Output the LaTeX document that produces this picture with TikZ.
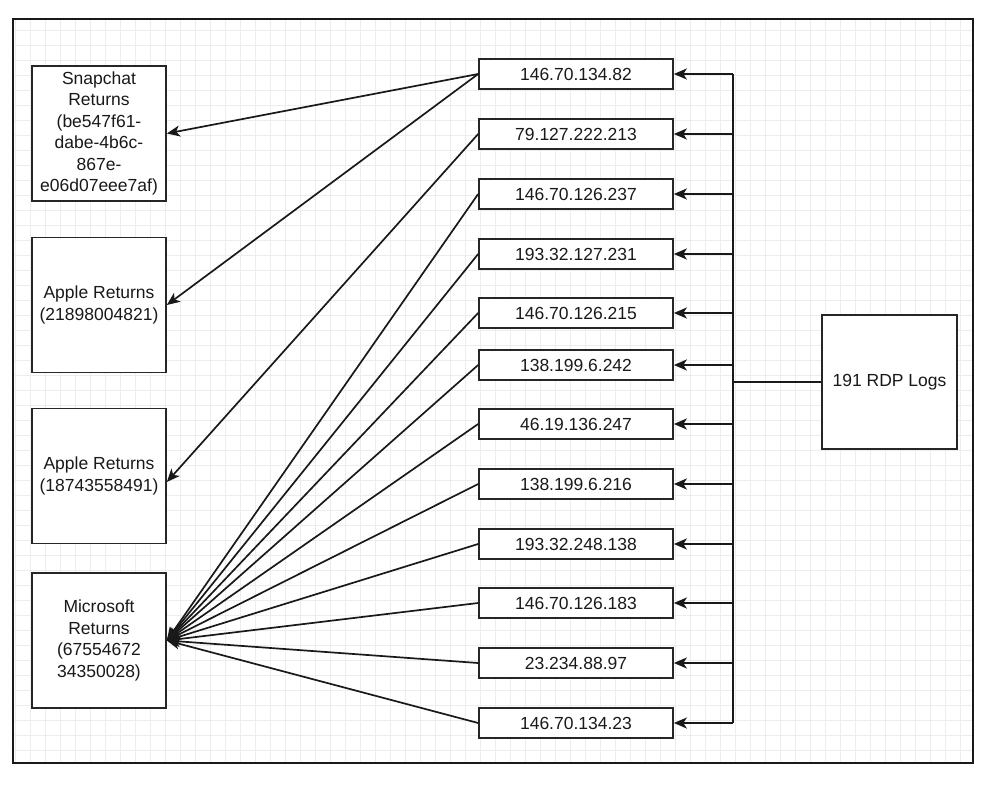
\documentclass[tikz,border=0pt]{standalone}
\usepackage{fontspec}
\setmainfont{Liberation Sans}
\usetikzlibrary{arrows.meta}
\begin{document}
\begin{tikzpicture}[x=1pt,y=-1pt,
  box/.style={draw=black!85, line width=1.7pt, fill=white, inner sep=0pt, text=black!90, font=\fontsize{17.5}{21.5}\selectfont, align=center},
  lbox/.style={box, minimum width=134pt, minimum height=135pt},
  ipbox/.style={box, minimum width=194pt, minimum height=30pt},
  arr/.style={line width=1.7pt, draw=black!90, -{Stealth[length=13pt,width=11pt,inset=3.5pt]}},
  ln/.style={line width=1.7pt, draw=black!90}]
\useasboundingbox (0,0) rectangle (992,786);
\fill[white] (0,0) rectangle (992,786);
\draw[black!7, line width=0.6pt, step=15pt] (13,19) grid (973,763);
\draw[line width=2.6pt, black!90] (13,19) rectangle (973,763);

% left boxes
\node[lbox] (snap) at (99,133.5) {Snapchat\\Returns\\(be547f61-\\dabe-4b6c-\\867e-\\e06d07eee7af)};
\node[lbox] (apple1) at (99,305) {Apple Returns\\(21898004821)};
\node[lbox] (apple2) at (99,476) {Apple Returns\\(18743558491)};
\node[lbox] (ms) at (99,640.5) {Microsoft\\Returns\\(67554672\\34350028)};

% RDP box
\node[box, minimum width=135pt, minimum height=134pt] (rdp) at (889.5,382) {191 RDP Logs};
\coordinate (bus) at (733,382);
\coordinate (bustop) at (733,74);
\coordinate (busbot) at (733,723);

% IP boxes
\foreach \i/\y/\t in {1/74/146.70.134.82, 2/134/79.127.222.213, 3/194/146.70.126.237,
  4/254/193.32.127.231, 5/313/146.70.126.215, 6/365/138.199.6.242,
  7/424/46.19.136.247, 8/484/138.199.6.216, 9/544/193.32.248.138,
  10/603/146.70.126.183, 11/663/23.234.88.97, 12/723/146.70.134.23}{
  \node[ipbox] (ip\i) at (576,\y) {\t};
  \draw[arr] (bus |- ip\i.east) -- (ip\i.east);
}

\draw[ln] (bustop) -- (busbot);
\draw[ln] (rdp.west) -- (bus);

% connectors to left boxes
\draw[arr] (ip1.west) -- (snap.east);
\draw[arr] (ip1.west) -- (apple1.east);
\draw[arr] (ip2.west) -- ([yshift=-6pt]apple2.east);
\foreach \i in {3,...,12}{
  \draw[arr] (ip\i.west) -- (ms.east);
}
\end{tikzpicture}
\end{document}
